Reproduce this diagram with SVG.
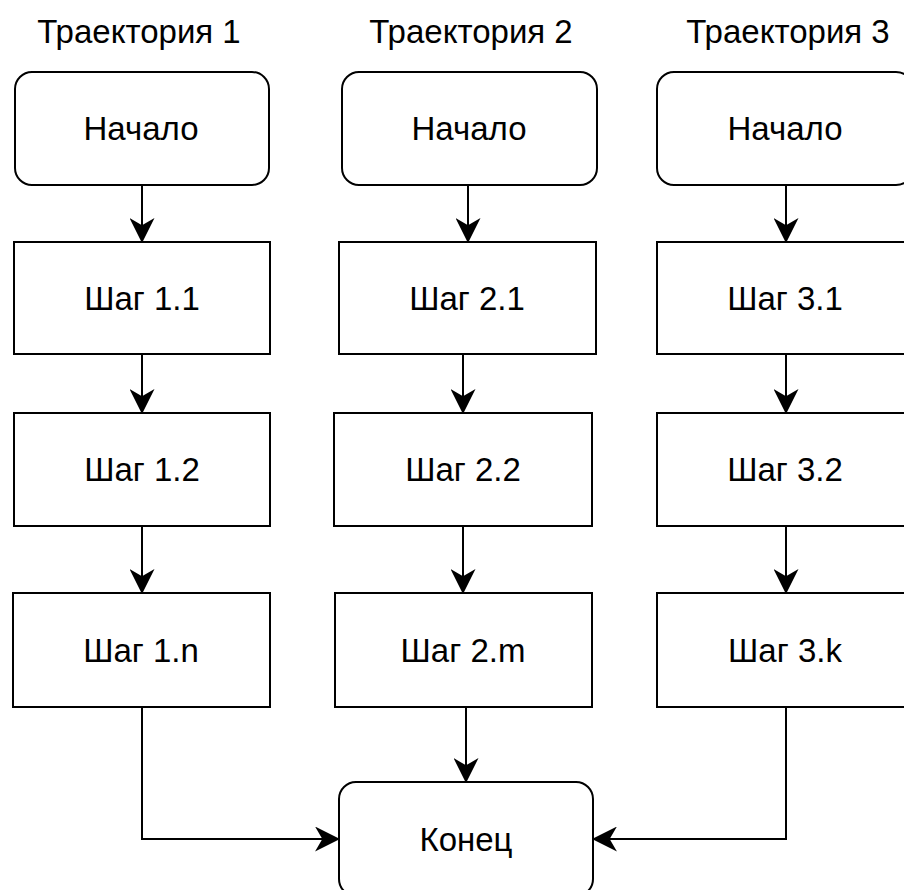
<svg xmlns="http://www.w3.org/2000/svg" width="904" height="890" viewBox="0 0 904 890">
<style>
.box{fill:#fff;stroke:#000;stroke-width:2}
.t{font-family:"Liberation Sans",Arial,sans-serif;font-size:33px;fill:#000;text-anchor:middle}
.c{fill:none;stroke:#000;stroke-width:2;marker-end:url(#ah)}
</style>
<defs>
<marker id="ah" markerUnits="userSpaceOnUse" markerWidth="25" markerHeight="25" viewBox="0 0 24 24" refX="23" refY="12" orient="auto">
<path d="M0,0 L24,12 L0,24 L7,12 Z" fill="#000"/>
</marker>
</defs>
<rect width="904" height="890" fill="#fff"/>
<g id="titles">
<text class="t" x="139" y="43">Траектория 1</text>
<text class="t" x="471" y="43">Траектория 2</text>
<text class="t" x="788" y="43">Траектория 3</text>
</g>
<g id="connectors">
<path class="c" d="M142,185 V242"/>
<path class="c" d="M142,354 V413"/>
<path class="c" d="M142,526 V593"/>
<path class="c" d="M468,185 V242"/>
<path class="c" d="M463,354 V413"/>
<path class="c" d="M463,526 V593"/>
<path class="c" d="M786,185 V242"/>
<path class="c" d="M786,354 V413"/>
<path class="c" d="M786,526 V593"/>
<path class="c" d="M142,707 V839 H339"/>
<path class="c" d="M466,707 V782"/>
<path class="c" d="M786,707 V839 H593"/>
</g>
<g id="start1"><rect class="box" x="15" y="72" width="254" height="113" rx="17"/><text class="t" x="141" y="140">Начало</text></g>
<g id="start2"><rect class="box" x="342" y="72" width="255" height="113" rx="17"/><text class="t" x="469" y="140">Начало</text></g>
<g id="start3"><rect class="box" x="657" y="72" width="256" height="113" rx="17"/><text class="t" x="785" y="140">Начало</text></g>
<g id="s11"><rect class="box" x="14" y="242" width="256" height="112"/><text class="t" x="142" y="310">Шаг 1.1</text></g>
<g id="s12"><rect class="box" x="14" y="413" width="256" height="113"/><text class="t" x="142" y="481">Шаг 1.2</text></g>
<g id="s1n"><rect class="box" x="13" y="593" width="257" height="114"/><text class="t" x="141" y="662">Шаг 1.n</text></g>
<g id="s21"><rect class="box" x="339" y="242" width="257" height="112"/><text class="t" x="467" y="310">Шаг 2.1</text></g>
<g id="s22"><rect class="box" x="334" y="413" width="258" height="113"/><text class="t" x="463" y="481">Шаг 2.2</text></g>
<g id="s2m"><rect class="box" x="335" y="593" width="257" height="114"/><text class="t" x="463" y="662">Шаг 2.m</text></g>
<g id="s31"><rect class="box" x="657" y="242" width="256" height="112"/><text class="t" x="785" y="310">Шаг 3.1</text></g>
<g id="s32"><rect class="box" x="657" y="413" width="256" height="113"/><text class="t" x="785" y="481">Шаг 3.2</text></g>
<g id="s3k"><rect class="box" x="657" y="593" width="256" height="114"/><text class="t" x="785" y="662">Шаг 3.k</text></g>
<g id="end"><rect class="box" x="339" y="782" width="254" height="114" rx="17"/><text class="t" x="466" y="851">Конец</text></g>
</svg>
